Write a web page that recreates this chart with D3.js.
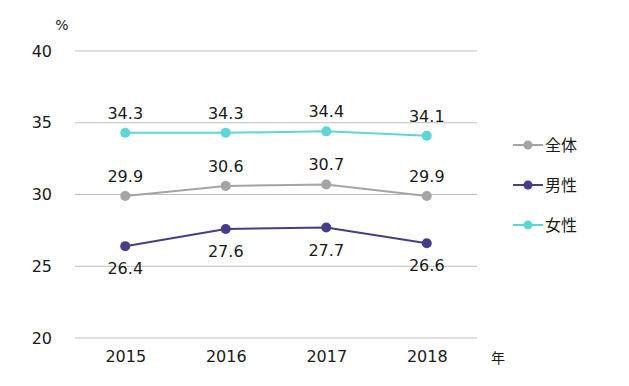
<!DOCTYPE html>
<html><head><meta charset="utf-8">
<script src="https://cdn.jsdelivr.net/npm/d3@7"></script>
<style>body{margin:0;background:#fff}text{font-family:"DejaVu Sans",Verdana,sans-serif;fill:#1a1a1a}</style>
</head><body><svg id="c" width="629" height="386"></svg>
<script>
const years = ["2015","2016","2017","2018"];
const yTicks = [20,25,30,35,40];
const seriesNames = ["全体","男性","女性"];
const allValues = [29.9,30.6,30.7,29.9];
const maleValues = [26.4,27.6,27.7,26.6];
const femaleValues = [34.3,34.3,34.4,34.1];
const colors = ["#a5a5a5","#463d8a","#5ed5d6"];
const labelPos = ["above","below","above"];

const svg = d3.select("#c");
const x = d3.scalePoint().domain(years).range([75,477]).padding(0.5);
const y = d3.scaleLinear().domain([20,40]).range([338,51]);
const font = "'Noto Sans CJK JP','DejaVu Sans',sans-serif";

svg.append("g").selectAll("line").data(yTicks).join("line")
  .attr("x1",75).attr("x2",477).attr("y1",d=>y(d)).attr("y2",d=>y(d))
  .attr("stroke","#bfbfbf").attr("stroke-width",1);

const yAxis = d3.axisLeft(y).tickValues(yTicks).tickSize(0).tickPadding(0);
const ga = svg.append("g").attr("transform","translate(52,0)").call(yAxis);
ga.select(".domain").remove();
ga.selectAll("text").attr("font-size",16).attr("font-family","DejaVu Sans, Verdana, sans-serif").attr("fill","#1a1a1a");

const xAxis = d3.axisBottom(x).tickSize(0).tickPadding(0);
const gx = svg.append("g").attr("transform","translate(0,351)").call(xAxis);
gx.select(".domain").remove();
gx.selectAll("text").attr("font-size",16).attr("font-family","DejaVu Sans, Verdana, sans-serif").attr("fill","#1a1a1a");

svg.append("text").attr("x",62).attr("y",30).attr("font-size",14).attr("text-anchor","middle").text("%");
svg.append("text").attr("x",498).attr("y",363).attr("font-size",14).attr("text-anchor","middle").style("font-family",font).text("年");

const data = [allValues,maleValues,femaleValues];
const line = d3.line().x((d,i)=>x(years[i])).y(d=>y(d));
data.forEach((vals,si)=>{
  const g = svg.append("g");
  g.append("path").attr("d",line(vals)).attr("fill","none").attr("stroke",colors[si]).attr("stroke-width",2);
  g.selectAll("circle").data(vals).join("circle")
    .attr("cx",(d,i)=>x(years[i])).attr("cy",d=>y(d)).attr("r",5).attr("fill",colors[si]);
  g.selectAll("text").data(vals).join("text")
    .attr("x",(d,i)=>x(years[i])).attr("y",d=>labelPos[si]==="above"? y(d)-14 : y(d)+28)
    .attr("text-anchor","middle").attr("font-size",16).text(d=>d.toFixed(1));
});

const lg = svg.append("g");
seriesNames.forEach((n,i)=>{
  const yy = 145 + i*40;
  lg.append("line").attr("x1",513).attr("x2",543).attr("y1",yy).attr("y2",yy).attr("stroke",colors[i]).attr("stroke-width",2);
  lg.append("circle").attr("cx",528).attr("cy",yy).attr("r",4.5).attr("fill",colors[i]);
  lg.append("text").attr("x",545).attr("y",yy+6).attr("font-size",16).style("font-family",font).text(n);
});
</script></body></html>
